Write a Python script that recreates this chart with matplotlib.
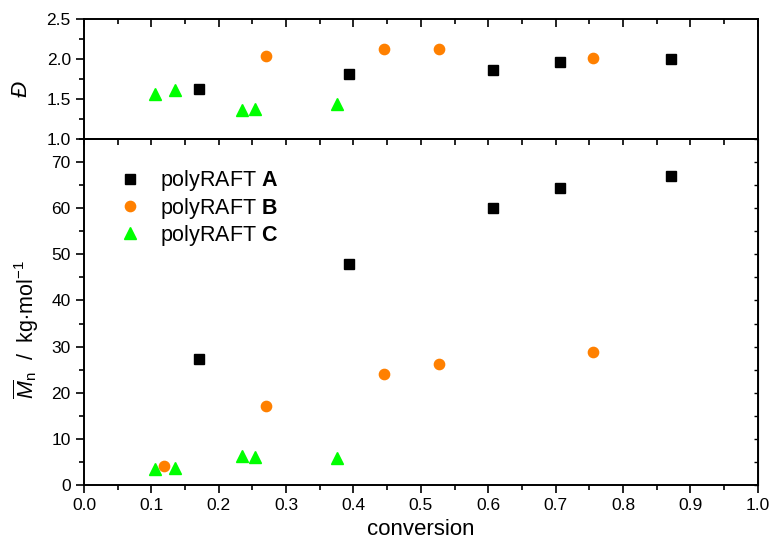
import matplotlib
matplotlib.use("Agg")
import matplotlib.pyplot as plt
from matplotlib.ticker import MultipleLocator, FormatStrFormatter

plt.rcParams['font.family'] = ['Liberation Sans', 'DejaVu Sans']
plt.rcParams['mathtext.fontset'] = 'custom'
plt.rcParams['mathtext.rm'] = 'Liberation Sans'
plt.rcParams['mathtext.it'] = 'Liberation Sans:italic'
plt.rcParams['mathtext.bf'] = 'Liberation Sans:bold'

# ---- data ----
conv_A = [0.170, 0.393, 0.607, 0.707, 0.871]
disp_A = [1.63, 1.81, 1.86, 1.96, 2.00]
mn_A = [27.4, 47.8, 60.1, 64.4, 67.0]

conv_B_mn = [0.119, 0.270, 0.446, 0.527, 0.756]
mn_B = [4.2, 17.2, 24.0, 26.3, 28.8]
conv_B_d = [0.270, 0.446, 0.527, 0.756]
disp_B = [2.04, 2.12, 2.13, 2.01]

conv_C = [0.105, 0.135, 0.234, 0.254, 0.375]
disp_C = [1.56, 1.61, 1.36, 1.37, 1.44]
mn_C = [3.5, 3.6, 6.2, 6.1, 5.9]

labels = [r'polyRAFT $\mathbf{A}$', r'polyRAFT $\mathbf{B}$', r'polyRAFT $\mathbf{C}$']
x_ticks = [0.0, 0.1, 0.2, 0.3, 0.4, 0.5, 0.6, 0.7, 0.8, 0.9, 1.0]

colA, colB, colC = '#000000', '#FF8000', '#00FF00'
msA, msB, msC = 6.6, 7.4, 8.6

W, H = 771, 548
fig = plt.figure(figsize=(W/100, H/100), dpi=100)
L, R = 84/W, 757.7/W
ax1 = fig.add_axes([L, 1-139/H, R-L, (139-19)/H])
ax2 = fig.add_axes([L, 1-485/H, R-L, (485-139)/H])

ax1.plot(conv_A, disp_A, 's', color=colA, ms=msA, ls='none')
ax1.plot(conv_B_d, disp_B, 'o', color=colB, ms=msB, ls='none')
ax1.plot(conv_C, disp_C, '^', color=colC, ms=msC, ls='none')

ax2.plot(conv_A, mn_A, 's', color=colA, ms=msA, ls='none', label=labels[0])
ax2.plot(conv_B_mn, mn_B, 'o', color=colB, ms=msB, ls='none', label=labels[1])
ax2.plot(conv_C, mn_C, '^', color=colC, ms=msC, ls='none', label=labels[2])

for ax in (ax1, ax2):
    ax.set_xlim(0, 1.0)
    ax.set_xticks(x_ticks)
    ax.xaxis.set_minor_locator(MultipleLocator(0.05))
    for s in ax.spines.values():
        s.set_linewidth(1.4)

ax1.set_ylim(1.0, 2.5)
ax1.yaxis.set_major_locator(MultipleLocator(0.5))
ax1.yaxis.set_minor_locator(MultipleLocator(0.25))
ax1.yaxis.set_major_formatter(FormatStrFormatter('%.1f'))
ax1.tick_params(axis='x', which='both', bottom=False, labelbottom=False, top=True, direction='in')
ax1.tick_params(axis='y', which='both', direction='out', labelsize=12.5)
ax1.tick_params(which='major', length=6, width=1.2)
ax1.tick_params(which='minor', length=3.5, width=1.2)

ax2.set_ylim(0, 75)
ax2.yaxis.set_major_locator(MultipleLocator(10))
ax2.yaxis.set_minor_locator(MultipleLocator(5))
ax2.tick_params(axis='x', which='both', direction='out', top=False, labelsize=12.5)
ax2.tick_params(axis='y', which='both', direction='out', labelsize=12.5)
ax2.tick_params(which='major', length=6, width=1.2)
ax2.tick_params(which='minor', length=3.5, width=1.2)
ax2.xaxis.set_major_formatter(FormatStrFormatter('%.1f'))
ax2.set_xlabel('conversion', fontsize=16, labelpad=4)

sec = ax2.secondary_xaxis('top')
sec.set_xticks(x_ticks)
sec.xaxis.set_minor_locator(MultipleLocator(0.05))
sec.tick_params(which='both', direction='in', labeltop=False, length=4, width=1.2)
sec.spines['top'].set_linewidth(1.4)
sec2 = ax2.secondary_yaxis('right')
sec2.yaxis.set_major_locator(MultipleLocator(10))
sec2.yaxis.set_minor_locator(MultipleLocator(5))
sec2.tick_params(which='both', direction='in', labelright=False, length=3, width=1.0)

# y-axis titles placed explicitly
fig.text(21/W, 1-89/H, 'Đ', fontsize=16, fontstyle='italic', rotation=90,
         ha='center', va='center')
fig.text(26/W, 1-330/H, r'$\overline{M}_{\mathrm{n}}$  /  kg$\cdot$mol$^{-1}$', fontsize=15.5,
         rotation=90, ha='center', va='center')

ax2.legend(loc='upper left', bbox_to_anchor=(0.03, 0.94), frameon=False, fontsize=15.5,
           handletextpad=0.6, labelspacing=0.1, borderaxespad=0.0, handlelength=1.6)

fig.savefig('out.png', dpi=100)
